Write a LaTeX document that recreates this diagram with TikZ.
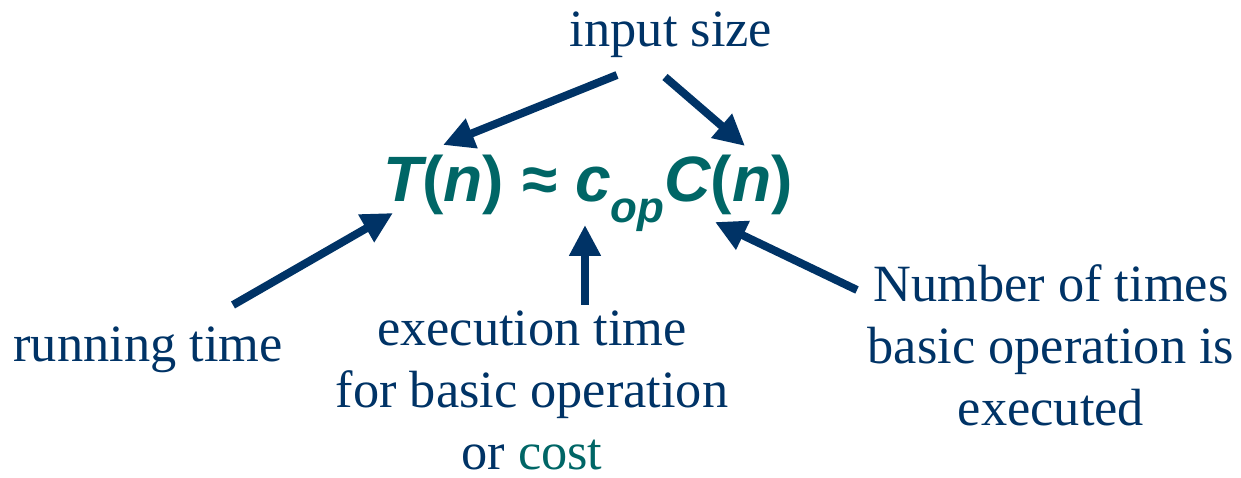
\documentclass[tikz,border=0pt]{standalone}
\usepackage{fontspec}
\setmainfont{Liberation Serif}
\newfontfamily\formfont{Liberation Sans}
\usetikzlibrary{arrows.meta}
\definecolor{navy}{RGB}{0,51,102}
\definecolor{teal}{RGB}{0,102,102}

\begin{document}
\begin{tikzpicture}[>={Triangle[length=0.62cm,width=0.6cm]},line width=0.16cm,
 lbl/.style={text=navy,inner sep=0pt,align=center,font=\fontsize{29.8}{35.2}\selectfont},
 frm/.style={inner sep=0pt,anchor=base,font=\formfont\bfseries\fontsize{36.5}{37}\selectfont},
 arr/.style={draw=navy,->}]
\useasboundingbox (0,0) rectangle (24.82,9.56);
% labels
\node[lbl,anchor=base] (isz) at (13.42,8.62) {input size};
\node[frm,text=teal] (frm) at (11.76,5.52)
 {\itshape T\upshape(\itshape n\upshape) ≈ \itshape c\raisebox{-0.32em}{\fontsize{25}{25}\selectfont op}C\upshape(\itshape n\upshape)};
\node[lbl,anchor=base] (run) at (2.96,2.32) {running time};
\node[lbl,anchor=north] (exe) at (10.64,3.42) {execution time\\for basic operation\\or \textcolor{teal}{cost}};
\node[lbl,anchor=north] (num) at (21.02,4.34) {Number of times\\basic operation is\\executed};
% arrow ends
\coordinate (a1s) at (12.34,8.06);
\coordinate (a1e) at (8.86,6.66);
\coordinate (a2s) at (13.30,8.02);
\coordinate (a2e) at (14.90,6.64);
\coordinate (a3s) at (4.66,3.46);
\coordinate (a3e) at (7.86,5.30);
\coordinate (a4s) at (11.70,3.46);
\coordinate (a4e) at (11.70,5.06);
\coordinate (a5s) at (17.14,3.76);
\coordinate (a5e) at (14.30,5.12);
\draw[arr] (a1s) -- (a1e);
\draw[arr] (a2s) -- (a2e);
\draw[arr] (a3s) -- (a3e);
\draw[arr] (a4s) -- (a4e);
\draw[arr] (a5s) -- (a5e);
\end{tikzpicture}
\end{document}
